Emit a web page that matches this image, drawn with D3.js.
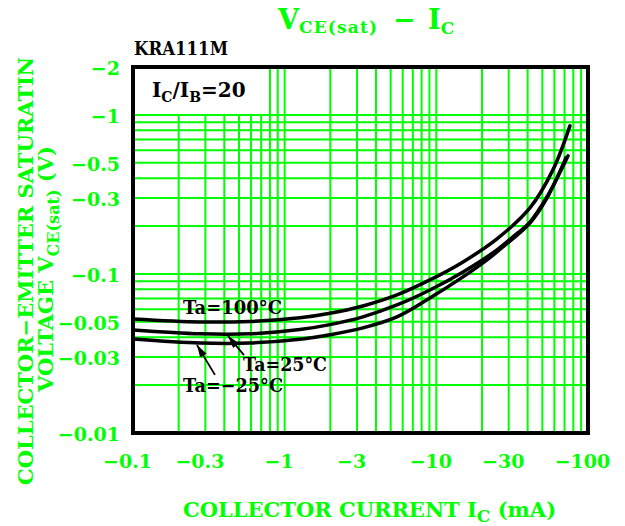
<!DOCTYPE html>
<html>
<head>
<meta charset="utf-8">
<script src="https://cdn.jsdelivr.net/npm/d3@7"></script>
<style>
  body { margin: 0; background: #fff; }
  text { font-family: "DejaVu Serif", serif; font-weight: bold; }
</style>
</head>
<body>
<svg width="625" height="526"></svg>
<script>
// tick labels (values are drawn with a leading minus)
var xTicks = [0.1, 0.3, 1, 3, 10, 30, 100];
var yTicks = [2, 1, 0.5, 0.3, 0.1, 0.05, 0.03, 0.01];

// VCE(sat) vs IC (magnitudes, mA / V)
var icHot  = [0.1, 0.2765, 0.59, 1.26, 1.99, 3.28, 5.5, 9.07, 15, 25.1, 41.4, 58.7, 76];
var vceHot = [0.0521, 0.0499, 0.0503, 0.053, 0.0566, 0.0629, 0.0738, 0.0917, 0.119, 0.166, 0.26, 0.451, 0.853];
var icRoom  = [0.1, 0.2765, 0.59, 1.26, 1.99, 3.28, 5.5, 9.07, 15, 25.1, 32, 41.4, 53.6, 73.8];
var vceRoom = [0.0444, 0.042, 0.042, 0.0447, 0.048, 0.0537, 0.0638, 0.0793, 0.1029, 0.1416, 0.171, 0.212, 0.305, 0.552];
var icCold  = [0.1, 0.2765, 0.59, 1.26, 1.99, 3.28, 5.5, 9.07, 15, 21.6, 27.5, 41.4, 53.6, 71.5];
var vceCold = [0.039, 0.0368, 0.0368, 0.0388, 0.0415, 0.0458, 0.0537, 0.0706, 0.0958, 0.1225, 0.148, 0.209, 0.3, 0.537];

// curve labels and leader lines, in data units
var labelText = ["Ta=100°C", "Ta=25°C", "Ta=\u221225°C"];
var labelIc   = [0.2136, 0.531, 0.2136];
var labelVce  = [0.056, 0.02454, 0.01811];
var labelLen  = [99, 84, 100];
var leaderFrom = [[0.539, 0.0309], [0.347, 0.0232]];
var leaderTo   = [[0.423, 0.0408], [0.264, 0.0358]];

function main() {
  var svg = d3.select("svg");
  var green = "#00ff00";
  var left = 133, right = 588, top = 67, bottom = 433;

  var x = d3.scaleLog().domain([0.1, 100]).range([left, right]);
  var y = d3.scaleLog().domain([0.01, 2]).range([bottom, top]);

  // minor log grid values
  var xGrid = [], yGrid = [];
  [0.1, 1, 10].forEach(function(dec) {
    for (var k = 1; k <= 9; k++) xGrid.push(k * dec);
  });
  xGrid.push(100);
  [0.01, 0.1].forEach(function(dec) {
    for (var k = 1; k <= 9; k++) yGrid.push(k * dec);
  });
  yGrid.push(1);

  var grid = svg.append("g");
  grid.selectAll(".vg").data(xGrid).enter().append("line")
      .attr("x1", function(d) { return x(d); })
      .attr("x2", function(d) { return x(d); })
      .attr("y1", top).attr("y2", bottom)
      .attr("stroke", green).attr("stroke-width", 2);

  // white patch behind the IC/IB note
  svg.append("rect")
     .attr("x", left).attr("y", top)
     .attr("width", x(0.75) - left)
     .attr("height", y(1) - top - 1)
     .attr("fill", "#fff");

  grid.selectAll(".hg").data(yGrid).enter().append("line")
      .attr("x1", left).attr("x2", right)
      .attr("y1", function(d) { return y(d); })
      .attr("y2", function(d) { return y(d); })
      .attr("stroke", green).attr("stroke-width", 2);

  // frame
  svg.append("rect")
     .attr("x", left).attr("y", top)
     .attr("width", right - left).attr("height", bottom - top)
     .attr("fill", "none").attr("stroke", "#000").attr("stroke-width", 4);

  // axes (labels only)
  var gx = svg.append("g")
      .attr("transform", "translate(0," + bottom + ")")
      .call(d3.axisBottom(x).tickValues(xTicks).tickSize(0)
            .tickFormat(function(d) { return "\u2212" + d; }));
  gx.select(".domain").remove();
  gx.selectAll("text")
    .attr("y", 35).attr("dy", 0).attr("dx", -6)
    .attr("fill", green).attr("font-size", 19)
    .attr("font-family", "DejaVu Serif").attr("font-weight", "bold");

  var gy = svg.append("g")
      .attr("transform", "translate(" + left + ",0)")
      .call(d3.axisLeft(y).tickValues(yTicks).tickSize(0).tickPadding(13)
            .tickFormat(function(d) { return "\u2212" + d; }));
  gy.select(".domain").remove();
  gy.selectAll("text")
    .attr("dy", "0.4em")
    .attr("fill", green).attr("font-size", 19)
    .attr("font-family", "DejaVu Serif").attr("font-weight", "bold");

  // curves
  var line = d3.line()
      .x(function(d) { return x(d[0]); })
      .y(function(d) { return y(d[1]); })
      .curve(d3.curveCatmullRom.alpha(0.5));
  var series = [d3.zip(icHot, vceHot), d3.zip(icRoom, vceRoom), d3.zip(icCold, vceCold)];
  svg.selectAll(".curve").data(series).enter().append("path")
     .attr("d", line)
     .attr("fill", "none").attr("stroke", "#000")
     .attr("stroke-width", 3.5).attr("stroke-linecap", "round");

  // leader arrows
  svg.append("defs").append("marker")
     .attr("id", "arr").attr("viewBox", "0 0 10 10")
     .attr("refX", 10).attr("refY", 5)
     .attr("markerWidth", 7).attr("markerHeight", 7)
     .attr("orient", "auto")
     .append("path").attr("d", "M0,2L10,5L0,8Z").attr("fill", "#000");
  svg.selectAll(".leader").data(d3.zip(leaderFrom, leaderTo)).enter().append("line")
     .attr("x1", function(d) { return x(d[0][0]); })
     .attr("y1", function(d) { return y(d[0][1]); })
     .attr("x2", function(d) { return x(d[1][0]); })
     .attr("y2", function(d) { return y(d[1][1]); })
     .attr("stroke", "#000").attr("stroke-width", 1.8)
     .attr("marker-end", "url(#arr)");

  svg.selectAll(".lbl").data(labelText).enter().append("text")
     .attr("x", function(d, i) { return x(labelIc[i]); })
     .attr("y", function(d, i) { return y(labelVce[i]); })
     .attr("font-size", 19).attr("fill", "#000")
     .attr("textLength", function(d, i) { return labelLen[i]; })
     .attr("lengthAdjust", "spacingAndGlyphs")
     .text(function(d) { return d; });

  // IC/IB note
  var note = svg.append("text").attr("x", 152).attr("y", 97)
      .attr("font-size", 20).attr("fill", "#000");
  note.append("tspan").text("I");
  note.append("tspan").attr("font-size", 14).attr("dy", 5).text("C");
  note.append("tspan").attr("dy", -5).text("/I");
  note.append("tspan").attr("font-size", 14).attr("dy", 5).text("B");
  note.append("tspan").attr("dy", -5).text("=20");

  // part number
  svg.append("text").attr("x", 134).attr("y", 55)
     .attr("font-size", 19).attr("fill", "#000")
     .attr("textLength", 94).attr("lengthAdjust", "spacingAndGlyphs")
     .text("KRA111M");

  // title
  var title = svg.append("text").attr("y", 29)
      .attr("font-size", 27).attr("fill", green);
  title.append("tspan").attr("x", 278).text("V");
  title.append("tspan").attr("font-size", 17).attr("letter-spacing", 1.2).attr("dy", 4).text("CE(sat)");
  title.append("tspan").attr("x", 393).attr("dy", -4).text("\u2212");
  title.append("tspan").attr("x", 428).text("I");
  title.append("tspan").attr("font-size", 17).attr("dy", 5).text("C");

  // x axis title
  var xt = svg.append("text").attr("x", 183).attr("y", 517)
      .attr("font-size", 21).attr("fill", green);
  xt.append("tspan").text("COLLECTOR CURRENT I");
  xt.append("tspan").attr("font-size", 17).attr("dy", 5).text("C");
  xt.append("tspan").attr("dy", -5).text(" (mA)");

  // y axis title, two rotated lines
  svg.append("text")
     .attr("transform", "translate(33,271) rotate(-90)")
     .attr("text-anchor", "middle").attr("font-size", 21).attr("fill", green)
     .text("COLLECTOR\u2212EMITTER SATURATIN");
  var yt = svg.append("text")
     .attr("transform", "translate(53,269) rotate(-90)")
     .attr("text-anchor", "middle").attr("font-size", 21).attr("fill", green);
  yt.append("tspan").text("VOLTAGE V");
  yt.append("tspan").attr("font-size", 16).attr("dy", 6).text("CE(sat)");
  yt.append("tspan").attr("dy", -6).text("  (V)");
}
main();
</script>
</body>
</html>
